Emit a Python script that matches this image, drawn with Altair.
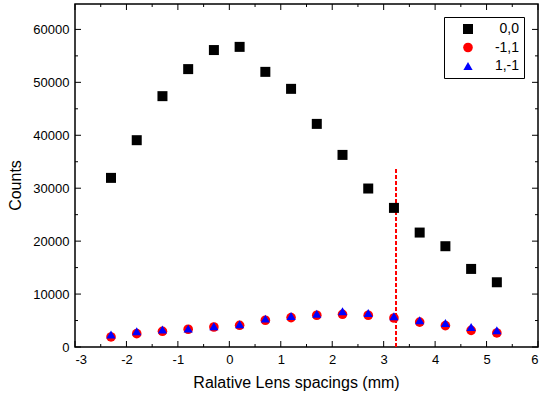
import altair as alt
import pandas as pd

# ---- data ----
x_pos = [-2.3, -1.8, -1.3, -0.8, -0.3, 0.2, 0.7, 1.2, 1.7, 2.2, 2.7, 3.2, 3.7, 4.2, 4.7, 5.2]
counts_00 = [31950, 39070, 47390, 52500, 56100, 56700, 51980, 48770, 42150, 36290, 29940, 26280, 21620, 19040, 14750, 12230]
counts_m11 = [1900, 2520, 2970, 3350, 3780, 4100, 5050, 5560, 6000, 6180, 6000, 5480, 4700, 4040, 3150, 2650]
counts_1m1 = [2340, 2970, 3290, 3470, 3900, 4290, 5360, 5860, 6300, 6750, 6430, 5800, 5050, 4540, 3780, 3150]

series_names = ["0,0", "-1,1", "1,-1"]
series_colors = ["#000000", "#ff0000", "#0000ff"]
series_shapes = ["square", "circle", "triangle-up"]
series_sizes = [100, 85, 190]

cutoff_x = [3.24]
cutoff_bottom = [0]
cutoff_top = [33800]

x_major = [-3, -2, -1, 0, 1, 2, 3, 4, 5, 6]
x_minor = [-2.5, -1.5, -0.5, 0.5, 1.5, 2.5, 3.5, 4.5, 5.5]
y_major = [0, 10000, 20000, 30000, 40000, 50000, 60000]
y_minor = [5000, 15000, 25000, 35000, 45000, 55000]

X_DOMAIN = [-3, 6]
Y_DOMAIN = [0, 64800]

W, H = 463, 343
FONT = "Liberation Sans"

# ---- tables ----
rows = []
for name, vals in zip(series_names, [counts_00, counts_m11, counts_1m1]):
    for xv, yv in zip(x_pos, vals):
        rows.append({"x": xv, "y": yv, "series": name})
df = pd.DataFrame(rows)

xs = alt.Scale(domain=X_DOMAIN, nice=False, zero=False)
ys = alt.Scale(domain=Y_DOMAIN, nice=False, zero=False)

x_axis = alt.Axis(
    title="Ralative Lens spacings (mm)", values=x_major, ticks=False, domain=False,
    grid=False, labelFontSize=13, labelFont=FONT, labelColor="black",
    labelPadding=6, labelExpr="'' + datum.value",
    titleFontSize=16, titleFont=FONT, titleFontWeight="normal",
    titleColor="black", titlePadding=8, titleX=221)
y_axis = alt.Axis(
    title="Counts", values=y_major, ticks=False, domain=False, grid=False,
    labelFontSize=13, labelFont=FONT, labelColor="black",
    labelPadding=6, labelExpr="'' + datum.value",
    titleFontSize=16, titleFont=FONT, titleFontWeight="normal",
    titleColor="black", titlePadding=9, titleY=181)

# an invisible (white) title on the left gives the symbols their left margin
legend = alt.Legend(
    title="0", titleOrient="left", titleFontSize=14, titlePadding=4, titleFont=FONT,
    titleColor="white", titleFontWeight="normal",
    orient="none", legendX=369, legendY=13,
    strokeColor="black", fillColor="white", padding=5,
    symbolOpacity=1, symbolStrokeWidth=0,
    labelAlign="right", labelOffset=44, labelFontSize=14, labelFont=FONT,
    labelColor="black", rowPadding=4.5,
)

points = alt.Chart(df).mark_point(filled=True, opacity=1).encode(
    x=alt.X("x:Q", scale=xs, axis=x_axis),
    y=alt.Y("y:Q", scale=ys, axis=y_axis),
    color=alt.Color("series:N", scale=alt.Scale(domain=series_names, range=series_colors), legend=legend),
    shape=alt.Shape("series:N", scale=alt.Scale(domain=series_names, range=series_shapes), legend=legend),
    size=alt.Size("series:N", scale=alt.Scale(domain=series_names, range=series_sizes), legend=legend),
    order=alt.Order("idx:Q"),
).transform_calculate(idx="indexof(['0,0','-1,1','1,-1'], datum.series)")

cut_df = pd.DataFrame({"x": cutoff_x, "y": cutoff_bottom, "y1": cutoff_top})
cutoff = alt.Chart(cut_df).mark_rule(color="#ff0000", strokeDash=[4, 2], strokeWidth=2).encode(
    x=alt.X("x:Q", scale=xs, axis=x_axis),
    y=alt.Y("y:Q", scale=ys, axis=y_axis),
    y2="y1:Q",
)

def xticks(vals, length):
    d = pd.DataFrame({"x": vals})
    bot = alt.Chart(d).mark_rule(color="black", strokeWidth=1).encode(
        x=alt.X("x:Q", scale=xs, axis=x_axis), y=alt.value(H), y2=alt.value(H - length))
    top = alt.Chart(d).mark_rule(color="black", strokeWidth=1).encode(
        x=alt.X("x:Q", scale=xs, axis=x_axis), y=alt.value(0), y2=alt.value(length))
    return [bot, top]

def yticks(vals, length):
    d = pd.DataFrame({"y": vals})
    left = alt.Chart(d).mark_rule(color="black", strokeWidth=1).encode(
        y=alt.Y("y:Q", scale=ys, axis=y_axis), x=alt.value(0), x2=alt.value(length))
    right = alt.Chart(d).mark_rule(color="black", strokeWidth=1).encode(
        y=alt.Y("y:Q", scale=ys, axis=y_axis), x=alt.value(W), x2=alt.value(W - length))
    return [left, right]

layers = [cutoff] + xticks(x_major, 6) + xticks(x_minor, 3) + yticks(y_major, 6) + yticks(y_minor, 3) + [points]

chart = alt.layer(*layers).properties(
    width=W, height=H,
    autosize=alt.AutoSizeParams(type="none"),
    padding={"left": 75, "top": 4, "right": 3, "bottom": 52},
    background="white",
).configure_view(stroke="black", strokeWidth=1.5)

chart.save("out.html", embed_options={"renderer": "svg", "actions": False})
